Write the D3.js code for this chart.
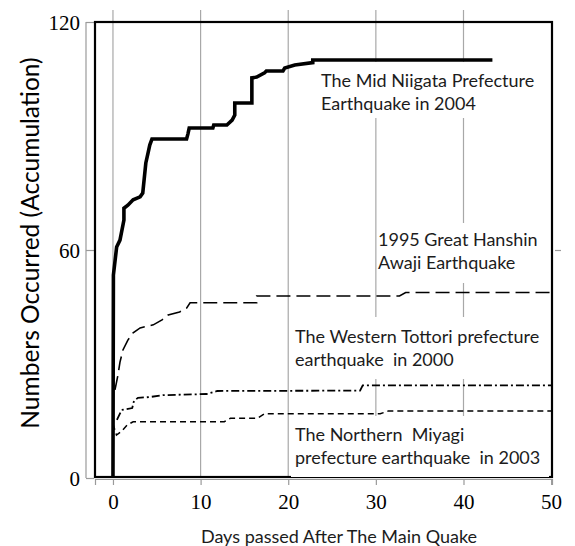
<!DOCTYPE html>
<html>
<head>
<meta charset="utf-8">
<script src="https://cdn.jsdelivr.net/npm/d3@7"></script>
<style>
  html, body { margin: 0; padding: 0; background: #fff; }
  svg { display: block; }
</style>
</head>
<body>
<svg id="chart" width="575" height="546"></svg>
<script>
// Cumulative counts of felt aftershocks, by days after each main quake
const niigataDays   = [0, 0.05, 0.42, 0.8, 1.25, 1.25, 1.7, 2.3, 3.1, 3.4, 3.75, 4.0, 4.2, 4.45, 8.4, 8.55, 8.7, 11.4, 11.5, 13.0, 13.6, 13.9, 13.9, 15.85, 15.85, 16.4, 17.3, 17.5, 19.4, 19.6, 20.75, 22.8, 22.8, 43.3];
const niigataCounts = [0, 53.4, 60.8, 62.6, 67.9, 71, 71.8, 73.2, 74, 75, 82.9, 85.5, 87.6, 89.2, 89.2, 90.5, 92.1, 92.1, 92.9, 92.9, 94.2, 95.5, 98.7, 98.7, 105.3, 105.5, 106.6, 107.1, 107.1, 107.9, 108.7, 109.3, 110, 110];

const hanshinDays   = [0.23, 0.57, 0.8, 1.14, 1.7, 2.3, 3.1, 4.6, 5.6, 6.3, 7.6, 8.4, 8.8, 16.4, 16.4, 32.7, 33.4, 50];
const hanshinCounts = [23.2, 27.1, 30.5, 33.7, 36.3, 38.2, 39.5, 40.3, 41.6, 42.9, 43.7, 44.7, 46.1, 46.1, 47.9, 47.9, 48.8, 48.8];

const tottoriDays   = [0.45, 1.0, 2.2, 2.4, 2.85, 4.2, 5.7, 10.7, 11.9, 28.2, 28.5, 50];
const tottoriCounts = [15.3, 17.9, 18.4, 20.3, 21.1, 21.3, 21.8, 22.1, 22.9, 23.0, 24.4, 24.4];

const miyagiDays    = [0, 0.4, 1.0, 1.6, 2.3, 12.7, 13.4, 16.5, 17.3, 30.5, 31.4, 50];
const miyagiCounts  = [14.2, 11.3, 12.3, 13.9, 14.8, 14.8, 15.7, 15.7, 16.9, 16.9, 17.6, 17.6];

const xTicks = [0, 10, 20, 30, 40, 50];
const yTicks = [0, 60, 120];

const seriesNames = [
  ["The Mid Niigata Prefecture", "Earthquake in 2004"],
  ["1995 Great Hanshin", "Awaji Earthquake"],
  ["The Western Tottori prefecture", "earthquake  in 2000"],
  ["The Northern  Miyagi", "prefecture earthquake  in 2003"]
];

const svg = d3.select("#chart");
const x = d3.scaleLinear().domain([-2.05, 50.1]).range([95, 552]);
const y = d3.scaleLinear().domain([0, 120]).range([478, 22]);

const labelFont = "Lato, 'Open Sans', sans-serif";
const serifFont = "'Liberation Serif', 'DejaVu Serif', serif";

// vertical grid lines
svg.append("g").selectAll("line")
  .data(xTicks.filter(d => d < 50))
  .join("line")
  .attr("x1", d => x(d)).attr("x2", d => x(d))
  .attr("y1", 10).attr("y2", y(0))
  .attr("stroke", "#a8a8a8").attr("stroke-width", 1.2);

// axes (grey)
const gx = svg.append("g").attr("transform", `translate(0,${y(0) + 1})`)
  .call(d3.axisBottom(x).tickValues(xTicks).tickSize(6).tickPadding(9).tickFormat(d3.format("d")));
const gy = svg.append("g").attr("transform", `translate(${x(-2.05) - 1},0)`)
  .call(d3.axisLeft(y).tickValues(yTicks).tickSize(8).tickPadding(6).tickFormat(d3.format("d")));
const gr = svg.append("g").attr("transform", `translate(${x(50.1) + 3},0)`)
  .call(d3.axisRight(y).tickValues([60]).tickSize(6).tickFormat(""));
[gx, gy, gr].forEach(g => {
  g.selectAll("path,line").attr("stroke", "#9a9a9a").attr("stroke-width", 1.2);
  g.selectAll("text").attr("fill", "#000").style("font-family", serifFont).style("font-size", "21px");
});
gy.selectAll("text").attr("dy", "0.34em");
gr.select(".domain").remove();
gy.select(".domain").attr("d", `M-8,${y(120)}V${y(0)}`);

// black plot frame
svg.append("rect")
  .attr("x", x(-2.05)).attr("y", y(120))
  .attr("width", x(50.1) - x(-2.05)).attr("height", y(0) - 1 - y(120))
  .attr("fill", "none").attr("stroke", "#000").attr("stroke-width", 2.2);

// label boxes with white background
const boxes = [
  { x: 315, y: 62,  w: 232, h: 56, tx: 321, ty: [87, 110] },
  { x: 377, y: 223, w: 168, h: 60, tx: 378, ty: [246, 269] },
  { x: 289, y: 317, w: 258, h: 62, tx: 295, ty: [342.5, 365.5] },
  { x: 291, y: 416, w: 258, h: 61, tx: 295, ty: [441, 464] }
];
const lab = svg.append("g");
boxes.forEach((b, i) => {
  lab.append("rect").attr("x", b.x).attr("y", b.y).attr("width", b.w).attr("height", b.h).attr("fill", "#fff");
  seriesNames[i].forEach((t, j) => {
    lab.append("text")
      .attr("x", b.tx).attr("y", b.ty[j])
      .attr("fill", "#1c1c1c")
      .style("font-family", labelFont).style("font-size", "18px")
      .style("white-space", "pre")
      .text(t);
  });
});

// series lines
const line = d3.line().x(d => x(d[0])).y(d => y(d[1]));
const zip = (a, b) => a.map((d, i) => [d, b[i]]);
const series = [
  { pts: zip(niigataDays, niigataCounts), w: 3.6, dash: null },
  { pts: zip(hanshinDays, hanshinCounts), w: 1.6, dash: "14,6" },
  { pts: zip(tottoriDays, tottoriCounts), w: 1.8, dash: "8,3,2,3" },
  { pts: zip(miyagiDays, miyagiCounts), w: 1.5, dash: "6,4" }
];
svg.append("g").selectAll("path")
  .data(series)
  .join("path")
  .attr("d", d => line(d.pts))
  .attr("fill", "none")
  .attr("stroke", "#000")
  .attr("stroke-width", d => d.w)
  .attr("stroke-linejoin", "miter")
  .attr("stroke-dasharray", d => d.dash);

// axis titles
svg.append("text")
  .attr("x", 339).attr("y", 543)
  .attr("text-anchor", "middle")
  .attr("fill", "#1c1c1c")
  .style("font-family", labelFont).style("font-size", "18px")
  .text("Days passed After The Main Quake");

svg.append("text")
  .attr("transform", "translate(39,243) rotate(-90)")
  .attr("text-anchor", "middle")
  .attr("fill", "#000")
  .style("font-family", labelFont).style("font-size", "24.5px")
  .text("Numbers Occurred (Accumulation)");
</script>
</body>
</html>
